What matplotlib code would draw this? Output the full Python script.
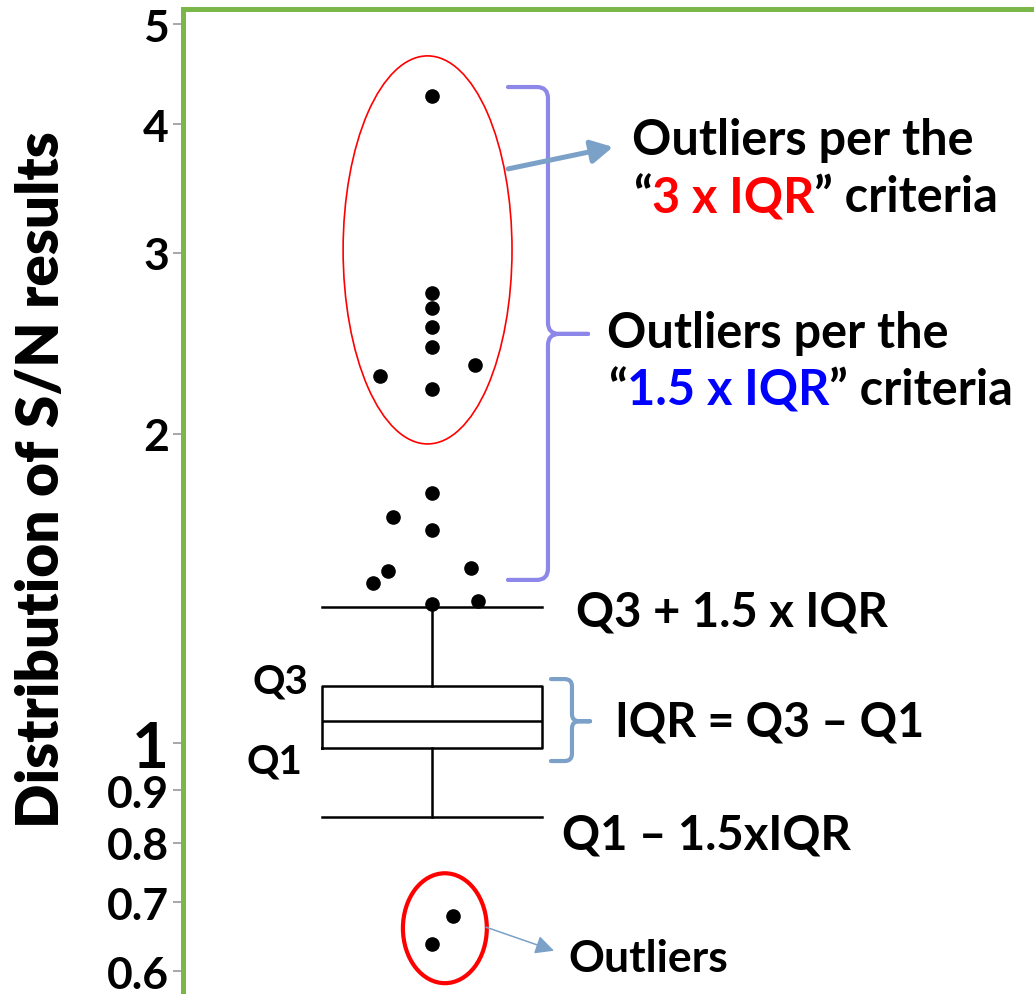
import numpy as np
import matplotlib.pyplot as plt
from matplotlib.patches import Ellipse, PathPatch
from matplotlib.path import Path

plt.rcParams['font.family'] = ['Lato', 'DejaVu Sans']
plt.rcParams['font.weight'] = 'bold'

# Box statistics of the S/N results
q1 = 0.989
median = 1.05
q3 = 1.136
whisker_low = 0.847
whisker_high = 1.356

# Outliers (value, horizontal jitter around the box centre)
high_outliers = [4.26, 2.74, 2.65, 2.54, 2.43, 2.275, 2.33, 2.21,
                 1.75, 1.66, 1.61, 1.47, 1.43, 1.48, 1.365, 1.375]
high_offsets = [0, 0, 0, 0, 0, -0.142, 0.117, 0,
                0, -0.107, 0, -0.119, -0.160, 0.105, 0, 0.126]
low_outliers = [0.679, 0.638]
low_offsets = [0.058, 0]

tick_values = [0.6, 0.7, 0.8, 0.9, 1, 2, 3, 4, 5]
tick_labels = ['0.6', '0.7', '0.8', '0.9', '1', '2', '3', '4', '5']

green = '#7AB648'
purple = '#8C87E8'
steel = '#7BA1C8'
red = '#FF0000'
blue = '#0000FF'

fig = plt.figure(figsize=(10.34, 9.95), dpi=100)
ax = fig.add_axes([183 / 1034, 0, 1 - 183 / 1034, 1 - 10 / 995])

# Values are drawn in log10 space so the annotations stay undistorted
L = np.log10
ax.set_xlim(0.3234, 2.636)
ax.set_ylim(L(0.570), L(5.176))

stats = [dict(med=L(median), q1=L(q1), q3=L(q3),
              whislo=L(whisker_low), whishi=L(whisker_high), fliers=[])]
line = dict(color='black', lw=1.8)
ax.bxp(stats, positions=[1], widths=0.6, capwidths=0.6, showfliers=False,
       boxprops=line, medianprops=line, whiskerprops=line, capprops=line)

ax.plot(1 + np.array(high_offsets), L(high_outliers), 'o', color='black', ms=9.5, zorder=3)
ax.plot(1 + np.array(low_offsets), L(low_outliers), 'o', color='black', ms=9.5, zorder=3)

# Axis styling
for side in ['right', 'bottom']:
    ax.spines[side].set_visible(False)
for side in ['left', 'top']:
    ax.spines[side].set_color(green)
    ax.spines[side].set_linewidth(3.6)
ax.set_xticks([])
ax.set_yticks(L(tick_values))
ax.set_yticklabels(tick_labels, fontsize=32, fontweight='bold')
ax.get_yticklabels()[tick_labels.index('1')].set_fontsize(46)
ax.tick_params(axis='y', length=7, width=1.3, color='#a0a0a0', pad=3)
fig.text(0.0397, 0.5176, 'Distribution of S/N results', rotation=90,
         ha='center', va='center', fontsize=42, fontweight='heavy')


def brace(x_arm, x_mid, x_tip, y_bot, y_top, y_tip, rx, ry, color, lw):
    yb, yt, yp = L(y_bot), L(y_top), L(y_tip)
    verts = [(x_arm, yt), (x_mid - rx, yt), (x_mid, yt), (x_mid, yt - ry),
             (x_mid, yp + ry), (x_mid, yp), (x_mid + rx, yp), (x_tip, yp),
             (x_mid + rx, yp), (x_mid, yp), (x_mid, yp - ry),
             (x_mid, yb + ry), (x_mid, yb), (x_mid - rx, yb), (x_arm, yb)]
    codes = [Path.MOVETO, Path.LINETO, Path.CURVE3, Path.CURVE3,
             Path.LINETO, Path.CURVE3, Path.CURVE3, Path.LINETO,
             Path.LINETO, Path.CURVE3, Path.CURVE3,
             Path.LINETO, Path.CURVE3, Path.CURVE3, Path.LINETO]
    ax.add_patch(PathPatch(Path(verts, codes), fill=False, ec=color, lw=lw,
                           capstyle='round', joinstyle='round'))


brace(1.2065, 1.3152, 1.4239, 1.441, 4.346, 2.50, 0.03, 0.011, purple, 3.0)
brace(1.3234, 1.3804, 1.4293, 0.9605, 1.154, median, 0.02, 0.007, steel, 3.0)

# Ellipses around the outlier groups
ax.add_patch(Ellipse((0.988, (L(4.66) + L(1.954)) / 2), 0.459, L(4.66) - L(1.954),
                     fill=False, ec=red, lw=1.2))
ax.add_patch(Ellipse((1.035, (L(0.747) + L(0.584)) / 2), 0.228, L(0.747) - L(0.584),
                     fill=False, ec=red, lw=3.0))

ax.annotate('', xy=(1.492, L(3.80)), xytext=(1.207, L(3.618)),
            arrowprops=dict(arrowstyle='-|>,head_length=0.65,head_width=0.35',
                            color=steel, lw=3.6, mutation_scale=20,
                            shrinkA=0, shrinkB=0))
ax.annotate('', xy=(1.3315, L(0.628)), xytext=(1.147, L(0.662)),
            arrowprops=dict(arrowstyle='-|>,head_length=0.8,head_width=0.4',
                            color=steel, lw=1.1, mutation_scale=14,
                            shrinkA=0, shrinkB=0))


def colored_line(x, y, pieces, size):
    prev = ax.text(x, L(y), pieces[0][0], color=pieces[0][1], fontsize=size,
                   ha='left', va='baseline')
    for txt, col in pieces[1:]:
        prev = ax.annotate(txt, xy=(1, 0), xycoords=prev, color=col,
                           fontsize=size, ha='left', va='bottom')


fs = 35
ax.text(1.5435, L(3.741), 'Outliers per the', fontsize=fs, va='baseline')
colored_line(1.546, 3.292, [('\u201c', 'black'), ('3 x IQR', red),
                            ('\u201d criteria', 'black')], fs)
ax.text(1.4755, L(2.427), 'Outliers per the', fontsize=fs, va='baseline')
colored_line(1.478, 2.137, [('\u201c', 'black'), ('1.5 x IQR', blue),
                            ('\u201d criteria', 'black')], fs)
ax.text(1.391, L(1.300), 'Q3 + 1.5 x IQR', fontsize=34, va='baseline')
ax.text(1.497, L(1.016), 'IQR = Q3 \u2013 Q1', fontsize=33.5, va='baseline')
ax.text(1.353, L(0.789), 'Q1 \u2013 1.5xIQR', fontsize=34, va='baseline')
ax.text(0.663, L(1.121), 'Q3', fontsize=29, ha='right', va='baseline')
ax.text(0.647, L(0.937), 'Q1', fontsize=29, ha='right', va='baseline')
ax.text(1.37, L(0.600), 'Outliers', fontsize=32, va='baseline')

fig.savefig('out.png', dpi=100)
